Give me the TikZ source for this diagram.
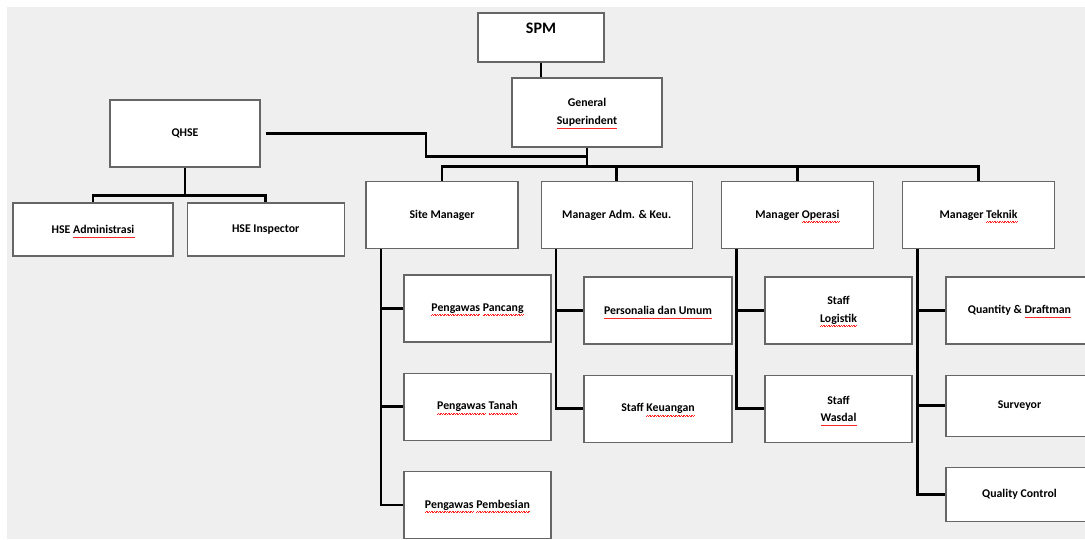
\documentclass[tikz,border=0pt]{standalone}
\usepackage{fontspec}
\setmainfont{Carlito}
\usepackage{tikz}
\usetikzlibrary{positioning}

\definecolor{canvas}{HTML}{EFEFEF}
\newcommand\typo[1]{\setbox0\hbox{#1}%
    \rlap{\raisebox{-4.2pt}[0pt][0pt]{\hbox to\wd0{\color{red!85}%
        \xleaders\hbox{\rule{0.8pt}{0.45pt}\rule[0.7pt]{0.8pt}{0.45pt}}\hfill}}}#1}

\tikzset{
    unit/.style={draw=black!60, fill=white, line width=1.2pt, minimum width=150pt,
        minimum height=67pt, align=center, inner sep=2pt,
        font=\bfseries\fontsize{11.8}{17.5}\selectfont},
    link/.style={line width=2.6pt}
}

\begin{document}
\begin{tikzpicture}[x=1pt, y=-1pt]
                \useasboundingbox (0,0) rectangle (1085,539);
                \clip (0,0) rectangle (1085,539);
                \fill[white] (0,0) rectangle (1085,539);
                \fill[canvas] (7,7) rectangle (1085,539);

                \node[unit, minimum width=126pt, minimum height=49pt, text depth=19pt,
                    font=\bfseries\fontsize{16}{18}\selectfont] (spm) at (541,37.5) {SPM};
                \node[unit, minimum height=69pt] (gs) at (587,112.5) {General\\\typo{Superindent}};
                \node[unit] (qhse) at (185,133.5) {QHSE};
                \node[unit, minimum width=160pt, minimum height=53pt] (hadm) at (93,229.5) {HSE \typo{Administrasi}};
                \node[unit, minimum width=157pt, minimum height=53pt] (hins) [right=13pt of hadm] {HSE Inspector};

                \node[unit, minimum width=152pt] (sm) at (442,215) {Site Manager};
                \node[unit, minimum width=151pt] (adm) [right=22pt of sm] {Manager Adm. \& Keu.};
                \node[unit, minimum width=152pt] (ops) [right=28pt of adm] {Manager \typo{Operasi}};
                \node[unit, minimum width=152pt] (tek) [right=28pt of ops] {Manager \typo{Teknik}};

                \node[unit, minimum width=147pt] (pp) at (477.5,308.5) {\typo{Pengawas} \typo{Pancang}};
                \node[unit, minimum width=147pt] (pt) [below=30pt of pp] {\typo{Pengawas} \typo{Tanah}};
                \node[unit, minimum width=147pt] (pb) [below=30pt of pt] {\typo{Pengawas} \typo{Pembesian}};
                \node[unit, minimum width=148pt] (pu) at (658,310.5) {\typo{Personalia dan Umum}};
                \node[unit, minimum width=148pt] (sk) [below=30pt of pu] {Staff \typo{Keuangan}};
                \node[unit, minimum width=147pt] (sl) at (838.5,310.5) {Staff\\\typo{Logistik}};
                \node[unit, minimum width=147pt] (sw) [below=30pt of sl] {Staff\\\typo{Wasdal}};
                \node[unit, minimum width=147pt] (qd) at (1019.5,310.5) {Quantity \& \typo{Draftman}};
                \node[unit, minimum width=147pt, minimum height=61pt] (sv) [below=30pt of qd] {Surveyor};
                \node[unit, minimum width=147pt, minimum height=54pt] (qc) [below=30pt of sv] {Quality Control};

                \path (gs.south) ++(0,9) coordinate (qj) ++(0,10) coordinate (bus);
                \draw[link] (spm.south) -- (spm.south |- gs.north);
                \draw[link] (gs.south) -- (bus);
                \foreach \m in {sm,adm,ops,tek}
                    \draw[link] (bus) -| (\m.north);
                \draw[link] ([xshift=5pt]qhse.east) -| ([xshift=-161pt]qj) -- (qj);
                \draw[link] (qhse.south) -- ++(0,28) coordinate (hb);
                \draw[link] (hb) -| (hadm.north);
                \draw[link] (hb) -| (hins.north);
                \foreach \m/\kids in {sm/{pp,pt,pb}, adm/{pu,sk}, ops/{sl,sw}, tek/{qd,sv,qc}}
                    \foreach \k in \kids
                        \draw[link] ([xshift=15.5pt]\m.south west) |- (\k.west);
\end{tikzpicture}
\end{document}
